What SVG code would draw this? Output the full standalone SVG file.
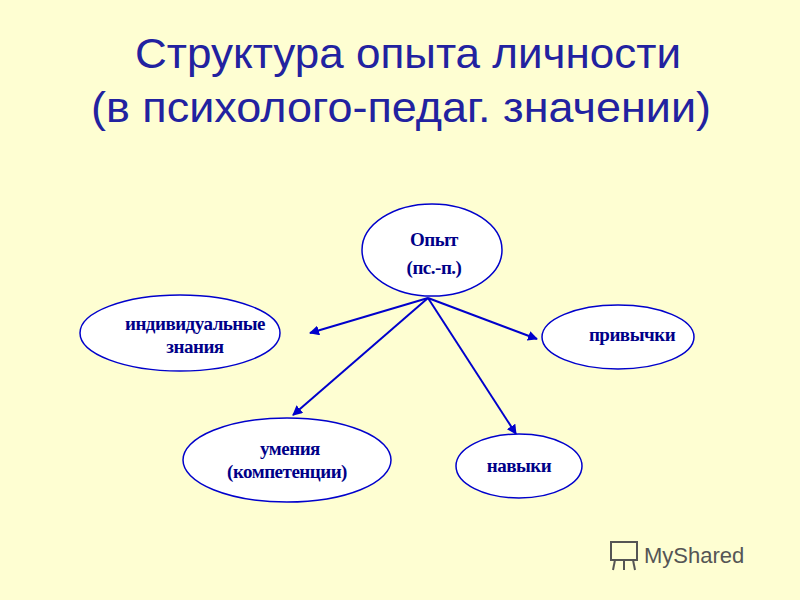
<svg xmlns="http://www.w3.org/2000/svg" width="800" height="600" viewBox="0 0 800 600">
<defs>
<style>
.n{fill:#fff;stroke:#0000cc;stroke-width:1.5}
.t{font-family:"Liberation Serif",serif;font-weight:bold;font-size:19px;fill:#000088;text-anchor:middle;letter-spacing:-0.5px}
.h{font-family:"Liberation Sans",sans-serif;font-size:42px;fill:#2222a0}
.c{stroke:#0000cc;stroke-width:2;fill:none;marker-end:url(#a)}
</style>
<marker id="a" viewBox="0 0 10 10" refX="9" refY="5" markerWidth="5" markerHeight="5" orient="auto"><path d="M0,0L10,5L0,10z" fill="#0000cc"/></marker>
</defs>
<rect width="800" height="600" fill="#fefed2"/>
<text class="h" x="408" y="68" text-anchor="middle" textLength="546" lengthAdjust="spacingAndGlyphs">Структура опыта личности</text>
<text class="h" x="401" y="122" text-anchor="middle" textLength="620" lengthAdjust="spacingAndGlyphs">(в психолого-педаг. значении)</text>
<g id="connectors">
<line class="c" x1="428" y1="298" x2="310" y2="333"/>
<line class="c" x1="428" y1="298" x2="537" y2="339"/>
<line class="c" x1="428" y1="298" x2="293" y2="415"/>
<line class="c" x1="428" y1="298" x2="516" y2="434"/>
</g>
<g id="opyt"><ellipse class="n" cx="432" cy="250" rx="70" ry="46" stroke-width="3"/><text class="t" x="434" y="246">Опыт</text><text class="t" x="434" y="274">(пс.-п.)</text></g>
<g id="znaniya"><ellipse class="n" cx="180" cy="333" rx="100" ry="38"/><text class="t" x="195" y="330">индивидуальные</text><text class="t" x="195" y="353">знания</text></g>
<g id="privychki"><ellipse class="n" cx="618" cy="337" rx="76" ry="32"/><text class="t" x="632" y="341">привычки</text></g>
<g id="umeniya"><ellipse class="n" cx="287" cy="460" rx="104" ry="42"/><text class="t" x="290" y="455">умения</text><text class="t" x="287" y="478">(компетенции)</text></g>
<g id="navyki"><ellipse class="n" cx="519" cy="466" rx="63" ry="32"/><text class="t" x="519" y="472">навыки</text></g>
<g id="logo" fill="none" stroke="#555" stroke-width="2">
<rect x="611" y="542" width="26" height="18"/><line x1="615" y1="560" x2="613" y2="570"/><line x1="624" y1="560" x2="624" y2="570"/><line x1="633" y1="560" x2="635" y2="570"/>
<text x="644" y="563" font-family="Liberation Sans,sans-serif" font-size="22" fill="#555" stroke="none">MyShared</text>
</g>
</svg>
